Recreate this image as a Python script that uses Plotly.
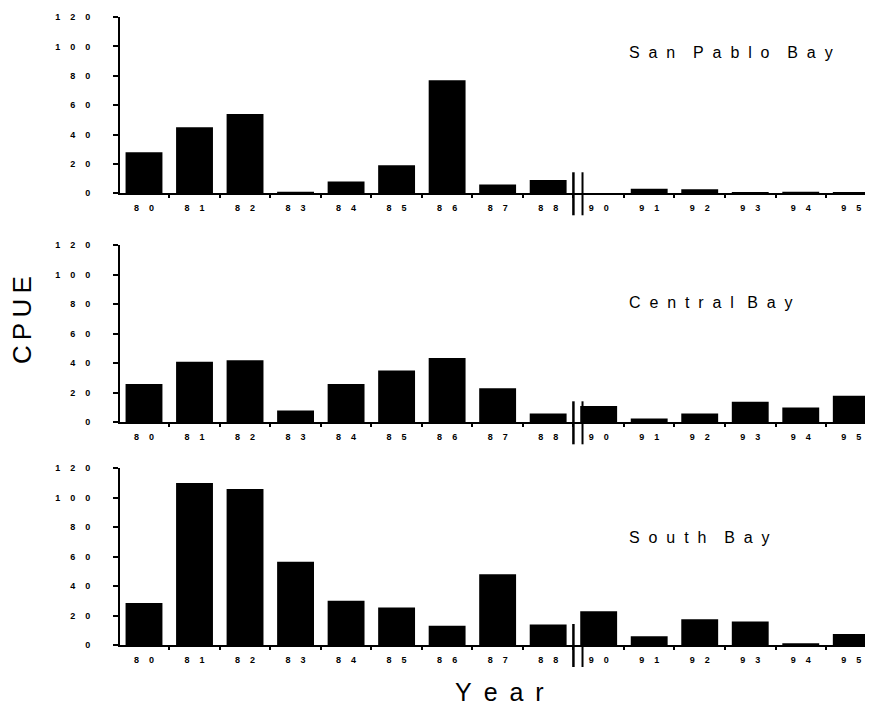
import plotly.graph_objects as go
from plotly.subplots import make_subplots

years = ["80", "81", "82", "83", "84", "85", "86", "87", "88",
         "90", "91", "92", "93", "94", "95"]
san_pablo = [28, 45, 54, 1, 8, 19, 77, 6, 9, 0, 3, 2.7, 0.3, 1, 0.5]
central = [26, 41, 42, 8, 26, 35, 43.5, 23, 6, 11, 2.5, 6, 14, 10, 18]
south = [28.5, 110, 106, 56.5, 30, 25.5, 13, 48, 14, 23, 6, 17.5, 16, 1, 7.5]
panel_names = ["San Pablo Bay", "Central Bay", "South Bay"]
y_ticks = [0, 20, 40, 60, 80, 100, 120]
break_after = "88"

NB = "\u00a0"


def spaced(s, n):
    return (NB * n).join(list(s))


def spaced_title(s, letter_gap, word_gap):
    words = s.split(" ")
    return (NB * word_gap).join((NB * letter_gap).join(list(w)) for w in words)


FONT = "Liberation Sans, Arial, Helvetica, sans-serif"
PLOT_H = 628.0

fig = make_subplots(rows=3, cols=1)
series = [san_pablo, central, south]
domains = [[0.7193, 1.0], [0.3546, 0.6369], [0.0, 0.2814]]
title_y = [0.80, 0.678, 0.61]
word_gaps = [4, 3, 4]

for i, vals in enumerate(series):
    r = i + 1
    fig.add_trace(go.Bar(x=years, y=vals, marker=dict(color="black", line=dict(width=0)),
                         width=0.73, showlegend=False), row=r, col=1)
    fig.update_xaxes(row=r, col=1, type="category", range=[-0.475, 14.43],
                     tickmode="array", tickvals=years, ticktext=[spaced(y, 4) for y in years],
                     tickson="boundaries", ticks="outside", ticklen=3, tickwidth=2,
                     tickcolor="black", showline=True, linecolor="black", linewidth=2,
                     showgrid=False, zeroline=False, ticklabelstandoff=5,
                     tickfont=dict(family=FONT, size=9, color="black", weight="bold"))
    fig.update_yaxes(row=r, col=1, range=[0, 120], tickmode="array", tickvals=y_ticks,
                     ticktext=[spaced(str(v), 4) for v in y_ticks],
                     ticks="outside", ticklen=5, tickwidth=2, tickcolor="black",
                     showline=True, linecolor="black", linewidth=2, showgrid=False,
                     zeroline=False, ticklabelstandoff=21,
                     tickfont=dict(family=FONT, size=9, color="black", weight="bold"))
    yname = "yaxis" if r == 1 else f"yaxis{r}"
    fig.layout[yname].domain = domains[i]
    xref = "x" if r == 1 else f"x{r}"
    yref = "y" if r == 1 else f"y{r}"
    bx = years.index(break_after) + 0.5
    base = domains[i][0]
    for dx, w in [(0.0, 2.5), (0.18, 2)]:
        fig.add_shape(type="line", xref=xref, yref="paper", x0=bx + dx, x1=bx + dx,
                      y0=base - 22 / PLOT_H, y1=base + 21 / PLOT_H,
                      line=dict(color="black", width=w))
    fig.add_annotation(text=spaced_title(panel_names[i], 2, word_gaps[i]),
                       xref="paper", yref=f"{yref} domain", x=0.673, y=title_y[i],
                       xanchor="left", yanchor="middle", showarrow=False,
                       font=dict(family=FONT, size=16, color="black"))

fig.add_annotation(text="C\u2009P\u2009U\u2009E", xref="paper", yref="paper", x=-0.130, y=0.5175,
                   textangle=-90, showarrow=False, xanchor="center", yanchor="middle",
                   font=dict(family=FONT, size=26, color="black"))
fig.add_annotation(text="Y\u2009 e\u2009 a\u2009 r", xref="paper", yref="paper", x=0.5046, y=-0.0748,
                   showarrow=False, xanchor="center", yanchor="middle",
                   font=dict(family=FONT, size=25, color="black"))

# page body adds an 8px offset; compensate so the plot sits where the reference does
fig.update_layout(width=865, height=697, margin=dict(l=112, r=0, t=9, b=60),
                  plot_bgcolor="white", paper_bgcolor="white", bargap=0.27)

fig.write_html("out.html")
